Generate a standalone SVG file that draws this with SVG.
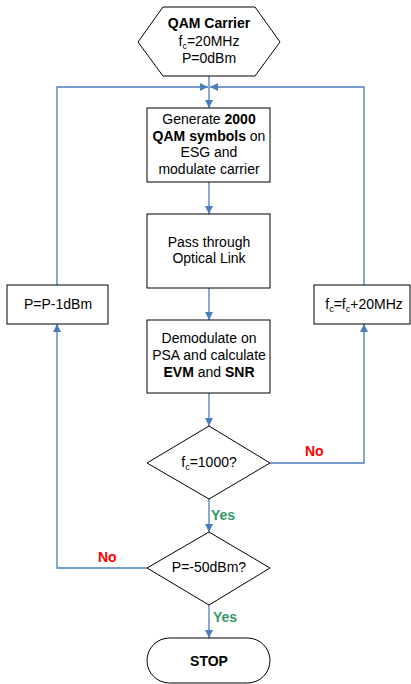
<svg xmlns="http://www.w3.org/2000/svg" width="411" height="684" viewBox="0 0 411 684">
<style>
.node{fill:#ffffff;stroke:#000000;stroke-width:1}
.t{font-family:"Liberation Sans",Arial,sans-serif;font-size:14px;fill:#000000;text-anchor:middle}
.b{font-weight:bold}
.sub{font-size:9px}
.conn{fill:none;stroke:#4a7ebb;stroke-width:1.3}
.no{font-family:"Liberation Sans",Arial,sans-serif;font-size:14px;font-weight:bold;fill:#ff0000}
.yes{font-family:"Liberation Sans",Arial,sans-serif;font-size:14px;font-weight:bold;fill:#339966}
</style>
<defs>
<marker id="arr" markerUnits="userSpaceOnUse" markerWidth="9" markerHeight="9" refX="8" refY="4" orient="auto">
<path d="M0,0 L8,4 L0,8 z" fill="#4a7ebb"/>
</marker>
</defs>
<rect x="0" y="0" width="411" height="684" fill="#ffffff"/>
<g id="connectors">
<path class="conn" d="M209,76 L209,108" marker-end="url(#arr)"/>
<path class="conn" d="M209,182 L209,214" marker-end="url(#arr)"/>
<path class="conn" d="M209,288 L209,320" marker-end="url(#arr)"/>
<path class="conn" d="M209,393 L209,426" marker-end="url(#arr)"/>
<path class="conn" d="M209,499 L209,532" marker-end="url(#arr)"/>
<path class="conn" d="M209,605 L209,638" marker-end="url(#arr)"/>
<path class="conn" d="M270,463 L364,463 L364,324" marker-end="url(#arr)"/>
<path class="conn" d="M364,285 L364,87 L210,87" marker-end="url(#arr)"/>
<path class="conn" d="M147,568 L57,568 L57,324" marker-end="url(#arr)"/>
<path class="conn" d="M57,285 L57,87 L208,87" marker-end="url(#arr)"/>
<text class="yes" x="211" y="520">Yes</text>
<text class="yes" x="213" y="622">Yes</text>
<text class="no" x="305" y="456">No</text>
<text class="no" x="98" y="562">No</text>
</g>
<g id="start">
<polygon class="node" points="163,7 255,7 280,42 255,76 163,76 138,42"/>
<text class="t b" x="209" y="28">QAM Carrier</text>
<text class="t" x="209" y="45.5">f<tspan class="sub" dy="3">c</tspan><tspan dy="-3">=20MHz</tspan></text>
<text class="t" x="209" y="62.5">P=0dBm</text>
</g>
<g id="generate">
<rect class="node" x="147" y="108" width="123" height="74"/>
<text class="t" x="209" y="124">Generate <tspan class="b">2000</tspan></text>
<text class="t" x="209" y="141"><tspan class="b">QAM symbols</tspan> on</text>
<text class="t" x="209" y="157">ESG and</text>
<text class="t" x="209" y="174">modulate carrier</text>
</g>
<g id="optical">
<rect class="node" x="147" y="214" width="123" height="74"/>
<text class="t" x="209" y="247">Pass through</text>
<text class="t" x="209" y="263">Optical Link</text>
</g>
<g id="demod">
<rect class="node" x="147" y="320" width="123" height="73"/>
<text class="t" x="209" y="343">Demodulate on</text>
<text class="t" x="209" y="360">PSA and calculate</text>
<text class="t" x="209" y="377"><tspan class="b">EVM</tspan> and <tspan class="b">SNR</tspan></text>
</g>
<g id="pdec">
<rect class="node" x="7" y="285" width="101" height="39"/>
<text class="t" x="58" y="309">P=P-1dBm</text>
</g>
<g id="finc">
<rect class="node" x="314" y="285" width="96" height="39"/>
<text class="t" x="364" y="309">f<tspan class="sub" dy="3">c</tspan><tspan dy="-3">=f</tspan><tspan class="sub" dy="3">c</tspan><tspan dy="-3">+20MHz</tspan></text>
</g>
<g id="dec1">
<polygon class="node" points="209,426 270,463 209,499 147,463"/>
<text class="t" x="209" y="467">f<tspan class="sub" dy="3">c</tspan><tspan dy="-3">=1000?</tspan></text>
</g>
<g id="dec2">
<polygon class="node" points="209,532 270,568 209,605 147,568"/>
<text class="t" x="209" y="572">P=-50dBm?</text>
</g>
<g id="stop">
<rect class="node" x="147" y="638" width="123" height="45" rx="22.5" ry="22.5"/>
<text class="t b" x="209" y="666">STOP</text>
</g>
</svg>
